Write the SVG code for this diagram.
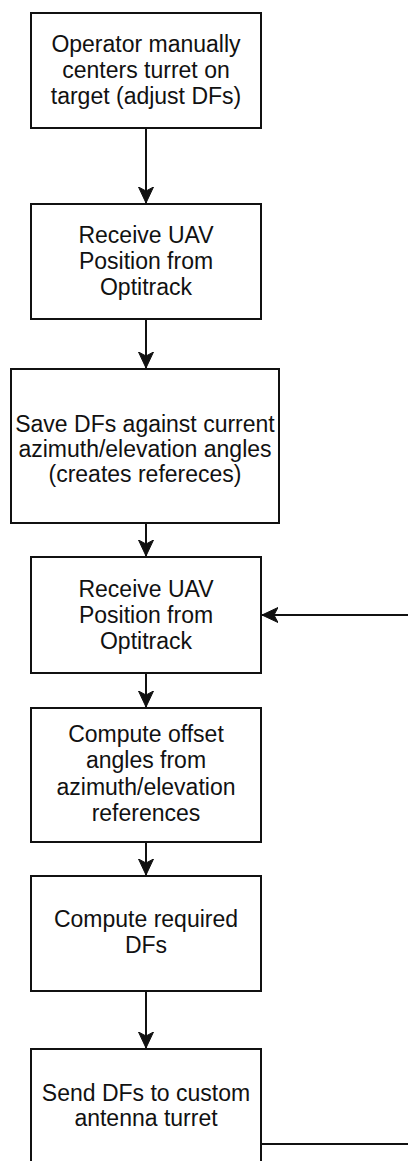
<svg xmlns="http://www.w3.org/2000/svg" width="408" height="1161" viewBox="0 0 408 1161">
<style>
.box{fill:#fff;stroke:#111;stroke-width:2}
.lbl{font-family:"Liberation Sans",Arial,Helvetica,sans-serif;font-size:23px;fill:#111;text-anchor:middle}
.edge{fill:none;stroke:#111;stroke-width:2}
.head{fill:#111;stroke:#111;stroke-width:1}
</style>
<defs>
<marker id="arr" markerUnits="userSpaceOnUse" markerWidth="18" markerHeight="18" refX="16" refY="8" orient="auto" viewBox="0 0 18 16">
<path class="head" d="M16,8 L0,0.5 L4,8 L0,15.5 Z"/>
</marker>
</defs>
<rect width="408" height="1161" fill="#fff"/>
<g id="connectors">
<line class="edge" x1="146" y1="128" x2="146" y2="203" marker-end="url(#arr)"/>
<line class="edge" x1="146" y1="319" x2="146" y2="368" marker-end="url(#arr)"/>
<line class="edge" x1="146" y1="523" x2="146" y2="556" marker-end="url(#arr)"/>
<line class="edge" x1="146" y1="673" x2="146" y2="707" marker-end="url(#arr)"/>
<line class="edge" x1="146" y1="842" x2="146" y2="875" marker-end="url(#arr)"/>
<line class="edge" x1="146" y1="991" x2="146" y2="1048" marker-end="url(#arr)"/>
<line class="edge" x1="408" y1="615" x2="262" y2="615" marker-end="url(#arr)"/>
<line class="edge" x1="261" y1="1144" x2="408" y2="1144"/>
</g>
<g id="n1">
<rect class="box" x="31" y="13" width="230" height="115"/>
<text class="lbl"><tspan x="146" y="52">Operator manually</tspan><tspan x="146" y="78">centers turret on</tspan><tspan x="146" y="104">target (adjust DFs)</tspan></text>
</g>
<g id="n2">
<rect class="box" x="31" y="204" width="230" height="115"/>
<text class="lbl"><tspan x="146" y="243">Receive UAV</tspan><tspan x="146" y="269">Position from</tspan><tspan x="146" y="295">Optitrack</tspan></text>
</g>
<g id="n3">
<rect class="box" x="11" y="369" width="268" height="154"/>
<text class="lbl"><tspan x="145" y="432">Save DFs against current</tspan><tspan x="145" y="457">azimuth/elevation angles</tspan><tspan x="145" y="482">(creates refereces)</tspan></text>
</g>
<g id="n4">
<rect class="box" x="31" y="557" width="230" height="116"/>
<text class="lbl"><tspan x="146" y="597">Receive UAV</tspan><tspan x="146" y="623">Position from</tspan><tspan x="146" y="649">Optitrack</tspan></text>
</g>
<g id="n5">
<rect class="box" x="31" y="708" width="230" height="134"/>
<text class="lbl"><tspan x="146" y="742">Compute offset</tspan><tspan x="146" y="768">angles from</tspan><tspan x="146" y="795">azimuth/elevation</tspan><tspan x="146" y="821">references</tspan></text>
</g>
<g id="n6">
<rect class="box" x="31" y="876" width="230" height="115"/>
<text class="lbl"><tspan x="146" y="927">Compute required</tspan><tspan x="146" y="953">DFs</tspan></text>
</g>
<g id="n7">
<rect class="box" x="31" y="1049" width="230" height="116"/>
<text class="lbl"><tspan x="146" y="1101">Send DFs to custom</tspan><tspan x="146" y="1126">antenna turret</tspan></text>
</g>
</svg>
